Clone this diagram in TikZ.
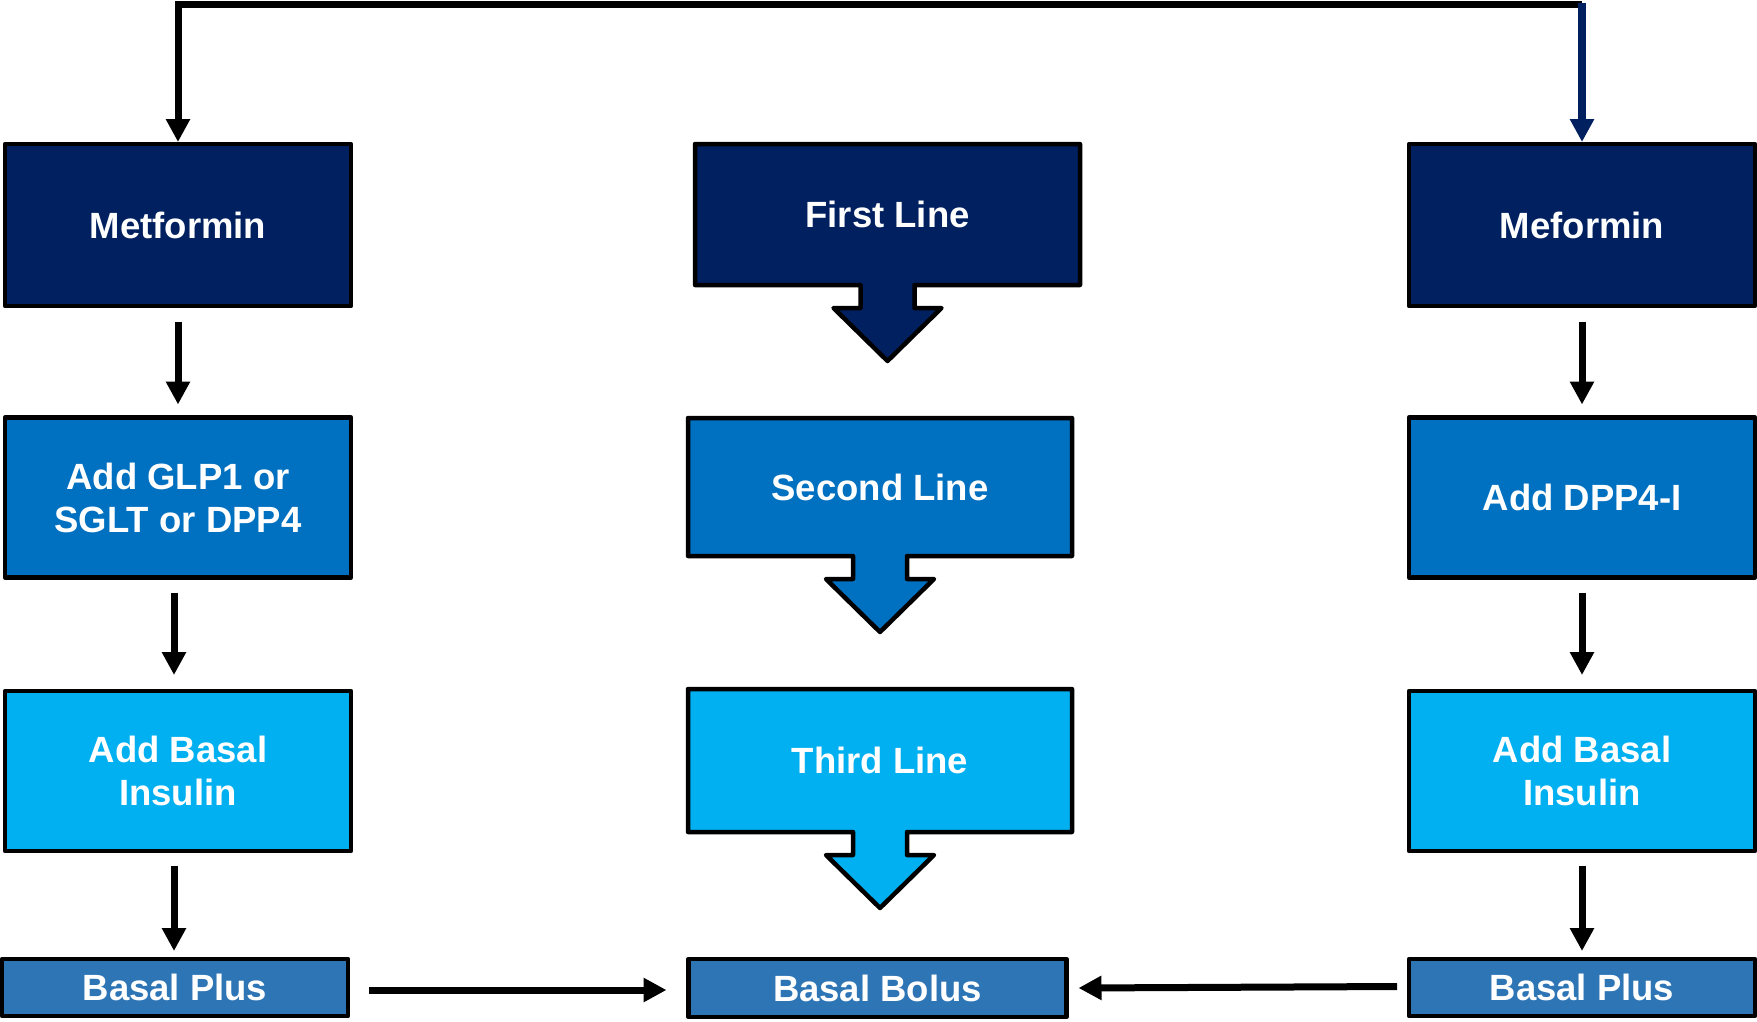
\documentclass[tikz,border=0pt]{standalone}
\usepackage{fontspec}
\setmainfont{Liberation Sans}
\usetikzlibrary{arrows.meta,calc,backgrounds}

\definecolor{navyfill}{HTML}{002060}
\definecolor{midblue}{HTML}{0070C0}
\definecolor{skyblue}{HTML}{00B0F0}
\definecolor{steelblue}{HTML}{2E75B6}

\tikzset{
  label font/.style={text=white, font=\bfseries\fontsize{36.5}{43}\selectfont, align=center},
  box/.style={rectangle, draw=black, line width=4.5pt, line join=round,
              inner sep=0pt, outer sep=0pt, label font},
  bare/.style={rectangle, draw=none, inner sep=0pt, outer sep=0pt, label font},
  outline/.style={draw=black, line width=4.5pt, line join=round},
  conn/.style={draw=black, line width=7pt, -{Triangle[length=23pt,width=23pt]}},
  navyconn/.style={draw=navyfill, line width=7.5pt, -{Triangle[length=23pt,width=23pt]}},
}

% box with a block arrow hanging from its bottom edge
\newcommand\blockarrow[2]{%
  \draw[outline, fill=#2] (#1.north west) -- (#1.north east) -- (#1.south east)
    -- ($(#1.south)+(27,0)$) -- ++(0,23) -- ++(27,0) -- ++(-54,53)
    -- ++(-54,-53) -- ++(27,0) -- ++(0,-23) -- (#1.south west) -- cycle;}

\begin{document}
\begin{tikzpicture}[x=1pt, y=-1pt]
  \useasboundingbox (0,0) rectangle (1757,1021);

  % left column
  \node[box, fill=navyfill, minimum width=346pt, minimum height=162pt] (m1) at (178,225) {Metformin};
  \node[box, fill=midblue, minimum width=346pt, minimum height=160pt] (g1) at (178,497.5) {Add GLP1 or\\SGLT or DPP4};
  \node[box, fill=skyblue, minimum width=346pt, minimum height=160pt] (b1) at (178,771) {Add Basal\\Insulin};
  \node[box, fill=steelblue, minimum width=346pt, minimum height=57pt] (p1) at (175,987.5) {Basal Plus};

  % centre column
  \node[bare, minimum width=385pt, minimum height=141pt] (f) at (887.5,214.5) {First Line};
  \node[bare, minimum width=384pt, minimum height=138pt] (s) at (880,487) {Second Line};
  \node[bare, minimum width=384pt, minimum height=143pt] (t) at (880,760.5) {Third Line};
  \node[box, fill=steelblue, minimum width=378pt, minimum height=58pt] (bb) at (877.5,988) {Basal Bolus};

  \begin{scope}[on background layer]
    \blockarrow{f}{navyfill}
    \blockarrow{s}{midblue}
    \blockarrow{t}{skyblue}
  \end{scope}

  % right column
  \node[box, fill=navyfill, minimum width=346pt, minimum height=162pt] (m2) at (1582,225) {Meformin};
  \node[box, fill=midblue, minimum width=346pt, minimum height=160pt] (d2) at (1582,497.5) {Add DPP4-I};
  \node[box, fill=skyblue, minimum width=346pt, minimum height=160pt] (b2) at (1582,771) {Add Basal\\Insulin};
  \node[box, fill=steelblue, minimum width=346pt, minimum height=57pt] (p2) at (1582,987.5) {Basal Plus};

  % top connector feeding both first-line boxes
  \coordinate (tl) at (178,4.5);
  \coordinate (tr) at (1582,4.5);
  \draw[conn, line join=miter, shorten >=2pt] (tr) -- (tl) -- (m1.north);
  \draw[navyconn, shorten >=2pt] ($(tr)+(0,-1.5)$) -- (m2.north);

  % left column steps
  \draw[conn] ($(m1.south)+(0,16)$) -- ($(g1.north)+(0,-13)$);
  \draw[conn] ($(g1.south)+(-4,15)$) -- ($(b1.north)+(-4,-16)$);
  \draw[conn] ($(b1.south)+(-4,15)$) -- ($(p1.north)+(-1,-8)$);

  % right column steps
  \draw[conn] ($(m2.south)+(0,16)$) -- ($(d2.north)+(0,-13)$);
  \draw[conn] ($(d2.south)+(0,15)$) -- ($(b2.north)+(0,-16)$);
  \draw[conn] ($(b2.south)+(0,15)$) -- ($(p2.north)+(0,-8)$);

  % both basal plus routes lead to basal bolus
  \draw[conn] ($(p1.east)+(21,2.5)$) -- ($(bb.west)+(-22,2)$);
  \draw[conn] ($(p2.west)+(-12,-1)$) -- ($(bb.east)+(12,0)$);
\end{tikzpicture}
\end{document}
